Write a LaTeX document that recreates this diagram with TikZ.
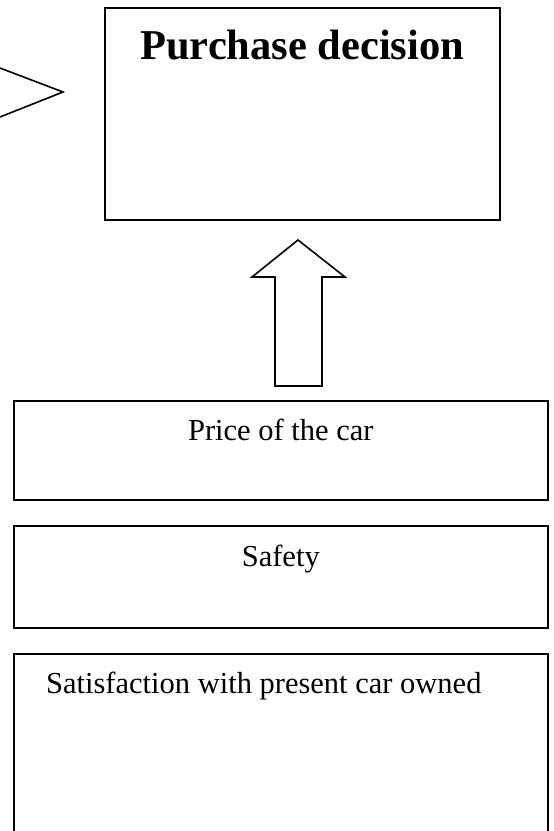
\documentclass[tikz,border=0pt]{standalone}
\usepackage{fontspec}
\setmainfont{Liberation Serif}
\usetikzlibrary{positioning}

\tikzset{
  factorbox/.style={draw, line width=1.6pt, rectangle, minimum width=534pt, anchor=north west, inner sep=0pt},
  factortext/.style={anchor=base, font=\fontsize{30.5}{34}\selectfont},
}

\begin{document}
\begin{tikzpicture}[x=1pt,y=-1pt]
    \useasboundingbox (0,0) rectangle (554,831);
    \clip (0,0) rectangle (554,831);

    % decision box and the arrow tip coming from the left
    \node[draw, line width=1.6pt, minimum width=395pt, minimum height=212pt, anchor=north west, inner sep=0pt] (decision) at (104,7) {};
    \node[anchor=base, font=\bfseries\fontsize{42.5}{46}\selectfont] (decisiontext) at ([yshift=-52pt]decision.north) {Purchase decision};
    \draw[line width=1.6pt, line join=miter] (0,68) -- (63,92) -- (0,117);

    % hollow arrow up to the decision
    \draw[line width=1.6pt, line join=miter] (275,386) -- (275,277) -- (252,277) -- (298,240)
        -- (345,277) -- (322,277) -- (322,386) -- cycle;

    % factors
    \node[factorbox, minimum height=99pt] (price) at (13,400) {};
    \node[factortext] (pricetext) at ([yshift=-40pt]price.north) {Price of the car};

    \node[factorbox, minimum height=102pt] (safety) at (13,525) {};
    \node[factortext] (safetytext) at ([yshift=-41pt]safety.north) {Safety};

    \node[factorbox, minimum height=250pt] (satisfaction) at (13,653) {};
    \node[factortext] (satisfactiontext) at ([xshift=-17pt,yshift=-40pt]satisfaction.north) {Satisfaction with present car owned};
\end{tikzpicture}
\end{document}
